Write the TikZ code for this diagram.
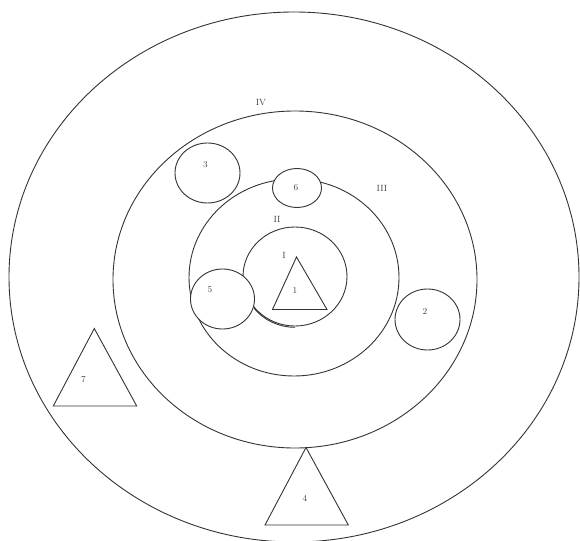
\documentclass[tikz,border=0pt]{standalone}
\usetikzlibrary{shapes.geometric}
\begin{document}
\begin{tikzpicture}[x=1pt,y=-1pt,
  ring/.style={draw=black!80,line width=0.9pt,ellipse,inner sep=0pt},
  tri/.style={draw=black!80,line width=0.9pt,line join=miter},
  lbl/.style={font=\fontsize{9}{10}\selectfont,text=black!75,inner sep=0pt}]
\useasboundingbox (0,0) rectangle (580,540);
\clip (0,0) rectangle (580,540);
% concentric rings
\node[ring,minimum width=570pt,minimum height=530pt] (outer) at (294,277) {};
\node[ring,minimum width=364pt,minimum height=337pt] (ringIV) at (295,279.5) {};
\node[ring,minimum width=210pt,minimum height=197pt] (ringIII) at (294,277.5) {};
\node[ring,minimum width=104pt,minimum height=99pt] (ringI) at (295,276.5) {};
\coordinate (ringIbot) at (295,327.3);
\draw[draw=black!80,line width=0.9pt] (ringIbot)
  arc[start angle=270,end angle=218,x radius=52pt,y radius=49.5pt];
% ring labels
\node[lbl] (lIV) at (261,103) {IV};
\node[lbl] (lIII) at (382,188) {III};
\node[lbl] (lII) at (277,219) {II};
\node[lbl] (lI) at (284,255) {I};
% small circles
\node[ring,fill=white,minimum width=65pt,minimum height=60pt] (c3) at (207.5,173) {};
\node[lbl] at (205.5,165) {3};
\node[ring,fill=white,minimum width=49pt,minimum height=39pt] (c6) at (297,188) {};
\node[lbl] at (296,188) {6};
\node[ring,fill=white,minimum width=64pt,minimum height=60pt] (c5) at (222.5,299) {};
\node[lbl] at (210,290) {5};
\node[ring,fill=white,minimum width=65pt,minimum height=61pt] (c2) at (427.5,319.5) {};
\node[lbl] at (425,312) {2};
% triangles
\coordinate (t1a) at (296.5,257);
\coordinate (t1b) at (272.5,309.5);
\coordinate (t1c) at (327,309.5);
\draw[tri] (t1a) -- (t1b) -- (t1c) -- cycle;
\node[lbl] (l1) at (295,291) {1};
\coordinate (t7a) at (94.3,328.5);
\coordinate (t7b) at (53.3,406);
\coordinate (t7c) at (136.7,406);
\draw[tri] (t7a) -- (t7b) -- (t7c) -- cycle;
\node[lbl] (l7) at (83.5,380) {7};
\coordinate (t4a) at (306,447.5);
\coordinate (t4b) at (265,525);
\coordinate (t4c) at (348.3,525);
\draw[tri] (t4a) -- (t4b) -- (t4c) -- cycle;
\node[lbl] (l4) at (305,498) {4};
\end{tikzpicture}
\end{document}
